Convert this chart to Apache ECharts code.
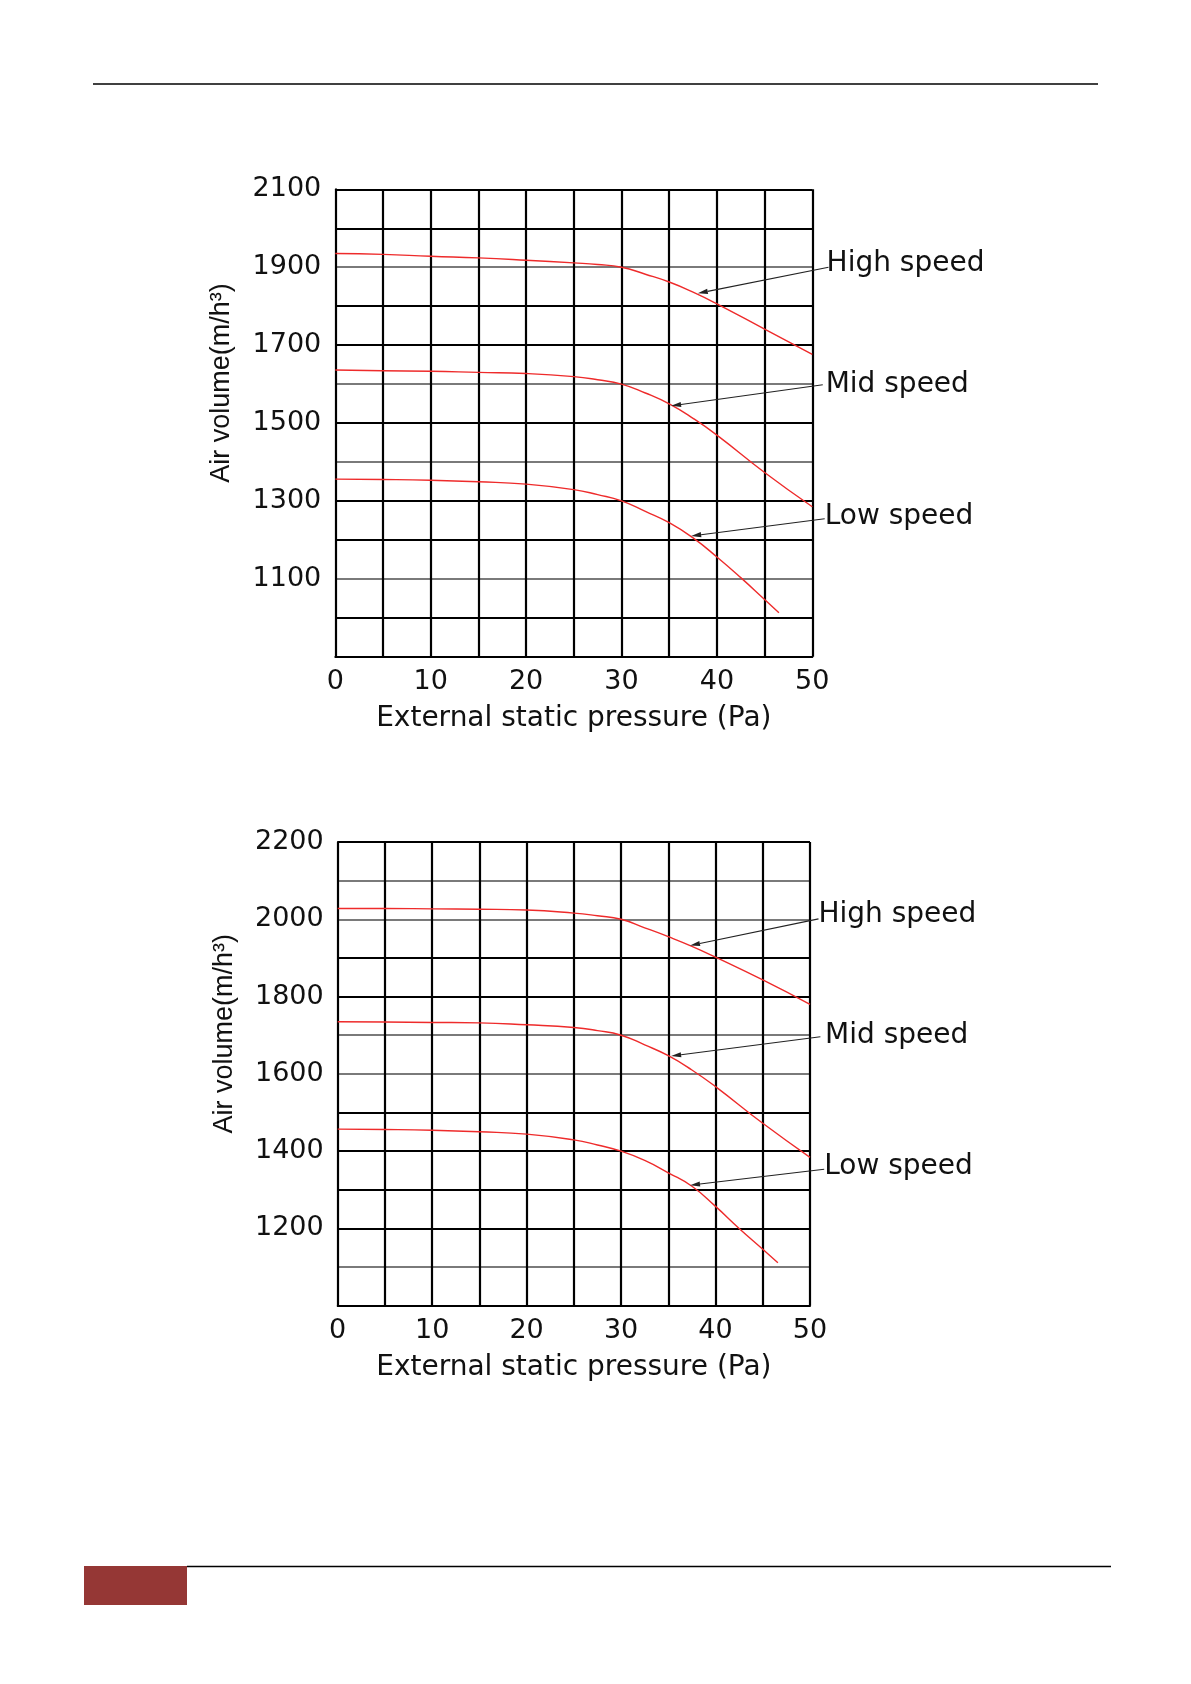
<!DOCTYPE html>
<html><head><meta charset="utf-8">
<script src="https://cdn.jsdelivr.net/npm/echarts@6/dist/echarts.min.js"></script>
<style>html,body{margin:0;padding:0;background:#fff}#c{width:1191px;height:1684px}</style>
</head><body><div id="c"></div>
<script>
// ---- data ----
const pressureTicks = [0, 10, 20, 30, 40, 50];
const pressure = [0, 5, 10, 15, 20, 25, 27.5, 30, 32.5, 35, 37.5, 40, 45, 50];
const lowPressure1 = [0, 5, 10, 15, 20, 25, 27.5, 30, 32.5, 35, 37.5, 40, 42.5, 45, 46.5];
const lowPressure2 = [0, 5, 10, 15, 20, 25, 27.5, 30, 32.5, 35, 37.5, 40, 42.5, 45, 46.6];

const volumeTicks1 = [1100, 1300, 1500, 1700, 1900, 2100];
const volumeTicks2 = [1200, 1400, 1600, 1800, 2000, 2200];

const high1 = [1935, 1933, 1928, 1924, 1918, 1911, 1907, 1900, 1882, 1862, 1836, 1806, 1741, 1676];
const mid1  = [1636, 1634, 1633, 1630, 1627, 1619, 1611, 1600, 1577, 1549, 1512, 1469, 1373, 1285];
const low1  = [1356, 1355, 1353, 1349, 1343, 1329, 1316, 1300, 1273, 1244, 1205, 1156, 1103, 1047, 1013];

const high2 = [2028, 2028, 2027, 2026, 2024, 2016, 2009, 2000, 1978, 1955, 1930, 1902, 1843, 1780];
const mid2  = [1735, 1734, 1733, 1732, 1727, 1720, 1712, 1700, 1675, 1647, 1610, 1567, 1472, 1384];
const low2  = [1457, 1456, 1454, 1450, 1444, 1429, 1416, 1400, 1376, 1344, 1309, 1257, 1200, 1146, 1111];

const speedNames = ['High speed', 'Mid speed', 'Low speed'];
// leader lines (label end -> arrow tip) and label anchors, in data units
const leaderStart1 = [[51.7, 1900], [51.1, 1598], [51.3, 1254]];
const leaderTip1   = [[38.0, 1833], [35.2, 1544], [37.3, 1210]];
const labelAnchor1 = [[51.5, 1910], [51.4, 1597], [51.3, 1260]];
const leaderStart2 = [[50.9, 2001], [51.1, 1696], [51.5, 1353]];
const leaderTip2   = [[37.3, 1932], [35.3, 1646], [37.3, 1312]];
const labelAnchor2 = [[50.9, 2011], [51.6, 1699], [51.5, 1360]];

// grid lines drawn thinner/grey in the reference
const thinLines1 = [1100, 1400, 1600, 1900];
const thinLines2 = [1100, 1600, 1700, 2000, 2100];

const xTitle = 'External static pressure (Pa)';
const yTitle = 'Air volume(m/h\u00B3)';

// ---- build ----
const FONT = 'DejaVu Sans, Verdana, sans-serif';
const FONT_Y = 'Liberation Sans, Arial, sans-serif';
const TXT = '#111';
function pairs(xs, ys) { return xs.map((x, i) => [x, ys[i]]); }
function lineColors(min, max, step, thin) {
  const c = [];
  for (let v = min; v <= max + 1e-9; v += step) c.push(thin.indexOf(v) >= 0 ? '#7a7a7a' : '#000');
  return c;
}
function xAxisOf(gi) {
  return {
    type: 'value', gridIndex: gi, min: 0, max: 50, interval: 5,
    axisLine: { show: true, onZero: false, lineStyle: { color: '#000', width: 2 } },
    axisTick: { show: false },
    splitLine: { show: true, lineStyle: { color: '#000', width: 2.2 } },
    axisLabel: { color: TXT, fontFamily: FONT, fontSize: 27, margin: 12,
      formatter: v => pressureTicks.indexOf(v) >= 0 ? String(v) : '' },
    name: xTitle, nameLocation: 'middle', nameGap: 48,
    nameTextStyle: { color: TXT, fontFamily: FONT, fontSize: 28 }
  };
}
function yAxisOf(gi, min, max, ticks, thin) {
  return {
    type: 'value', gridIndex: gi, min: min, max: max, interval: 100,
    axisLine: { show: true, onZero: false, lineStyle: { color: '#000', width: 2 } },
    axisTick: { show: false },
    splitLine: { show: true, lineStyle: { color: lineColors(min, max, 100, thin), width: 2 } },
    axisLabel: { color: TXT, fontFamily: FONT, fontSize: 27, margin: 14,
      formatter: v => ticks.indexOf(v) >= 0 ? String(v) : '' },
    name: yTitle, nameLocation: 'middle', nameGap: 100,
    nameTextStyle: { color: TXT, fontFamily: FONT_Y, fontSize: 27, padding: [0, 0, 0, 80] }
  };
}
function curve(gi, name, xs, ys) {
  return {
    type: 'line', name: name, xAxisIndex: gi, yAxisIndex: gi,
    data: pairs(xs, ys), smooth: 0.5, showSymbol: false,
    lineStyle: { color: '#ee2b2b', width: 1.4 }, itemStyle: { color: '#ee2b2b' },
    silent: true, z: 5
  };
}

const chart = echarts.init(document.getElementById('c'), null, { renderer: 'canvas' });
chart.setOption({
  animation: false,
  backgroundColor: '#fff',
  grid: [
    { left: 335.3, top: 189.3, width: 477, height: 467.4, show: false, outerBoundsMode: 'none' },
    { left: 337.7, top: 842, width: 472.3, height: 463.7, show: false, outerBoundsMode: 'none' }
  ],
  xAxis: [xAxisOf(0), xAxisOf(1)],
  yAxis: [yAxisOf(0, 900, 2100, volumeTicks1, thinLines1), yAxisOf(1, 1000, 2200, volumeTicks2, thinLines2)],
  series: [
    curve(0, speedNames[0], pressure, high1),
    curve(0, speedNames[1], pressure, mid1),
    curve(0, speedNames[2], lowPressure1, low1),
    curve(1, speedNames[0], pressure, high2),
    curve(1, speedNames[1], pressure, mid2),
    curve(1, speedNames[2], lowPressure2, low2)
  ],
  graphic: [
    { id: 'hdr', type: 'line', shape: { x1: 93, y1: 84, x2: 1098, y2: 84 }, style: { stroke: '#000', lineWidth: 1.5 }, silent: true },
    { id: 'ftrBox', type: 'rect', shape: { x: 84, y: 1566, width: 103, height: 39 }, style: { fill: '#953735' }, silent: true },
    { id: 'ftrLine', type: 'line', shape: { x1: 187, y1: 1566.5, x2: 1111, y2: 1566.5 }, style: { stroke: '#000', lineWidth: 1.5 }, silent: true }
  ]
});

// leader lines with arrow heads and labels, placed through the grid's own scales
const leaders = [];
function addLeader(gi, k, start, tip, anchor, name) {
  const p0 = chart.convertToPixel({ gridIndex: gi }, start);
  const p1 = chart.convertToPixel({ gridIndex: gi }, tip);
  const pa = chart.convertToPixel({ gridIndex: gi }, anchor);
  const dx = p1[0] - p0[0], dy = p1[1] - p0[1];
  const len = Math.sqrt(dx * dx + dy * dy), ux = dx / len, uy = dy / len;
  const L = 10, W = 2.6;
  const bx = p1[0] - ux * L, by = p1[1] - uy * L;
  leaders.push({ id: 'ln' + gi + k, type: 'line', silent: true, z: 20,
    shape: { x1: p0[0], y1: p0[1], x2: bx, y2: by }, style: { stroke: '#222', lineWidth: 1.1 } });
  leaders.push({ id: 'ar' + gi + k, type: 'polygon', silent: true, z: 20,
    shape: { points: [[p1[0], p1[1]], [bx - uy * W, by + ux * W], [bx + uy * W, by - ux * W]] },
    style: { fill: '#222' } });
  leaders.push({ id: 'tx' + gi + k, type: 'text', silent: true, z: 20, x: pa[0], y: pa[1],
    style: { text: name, fill: TXT, font: '28px ' + FONT, textAlign: 'left', textVerticalAlign: 'middle' } });
}
for (let k = 0; k < 3; k++) {
  addLeader(0, k, leaderStart1[k], leaderTip1[k], labelAnchor1[k], speedNames[k]);
  addLeader(1, k, leaderStart2[k], leaderTip2[k], labelAnchor2[k], speedNames[k]);
}
chart.setOption({ graphic: leaders });
</script>
</body></html>
